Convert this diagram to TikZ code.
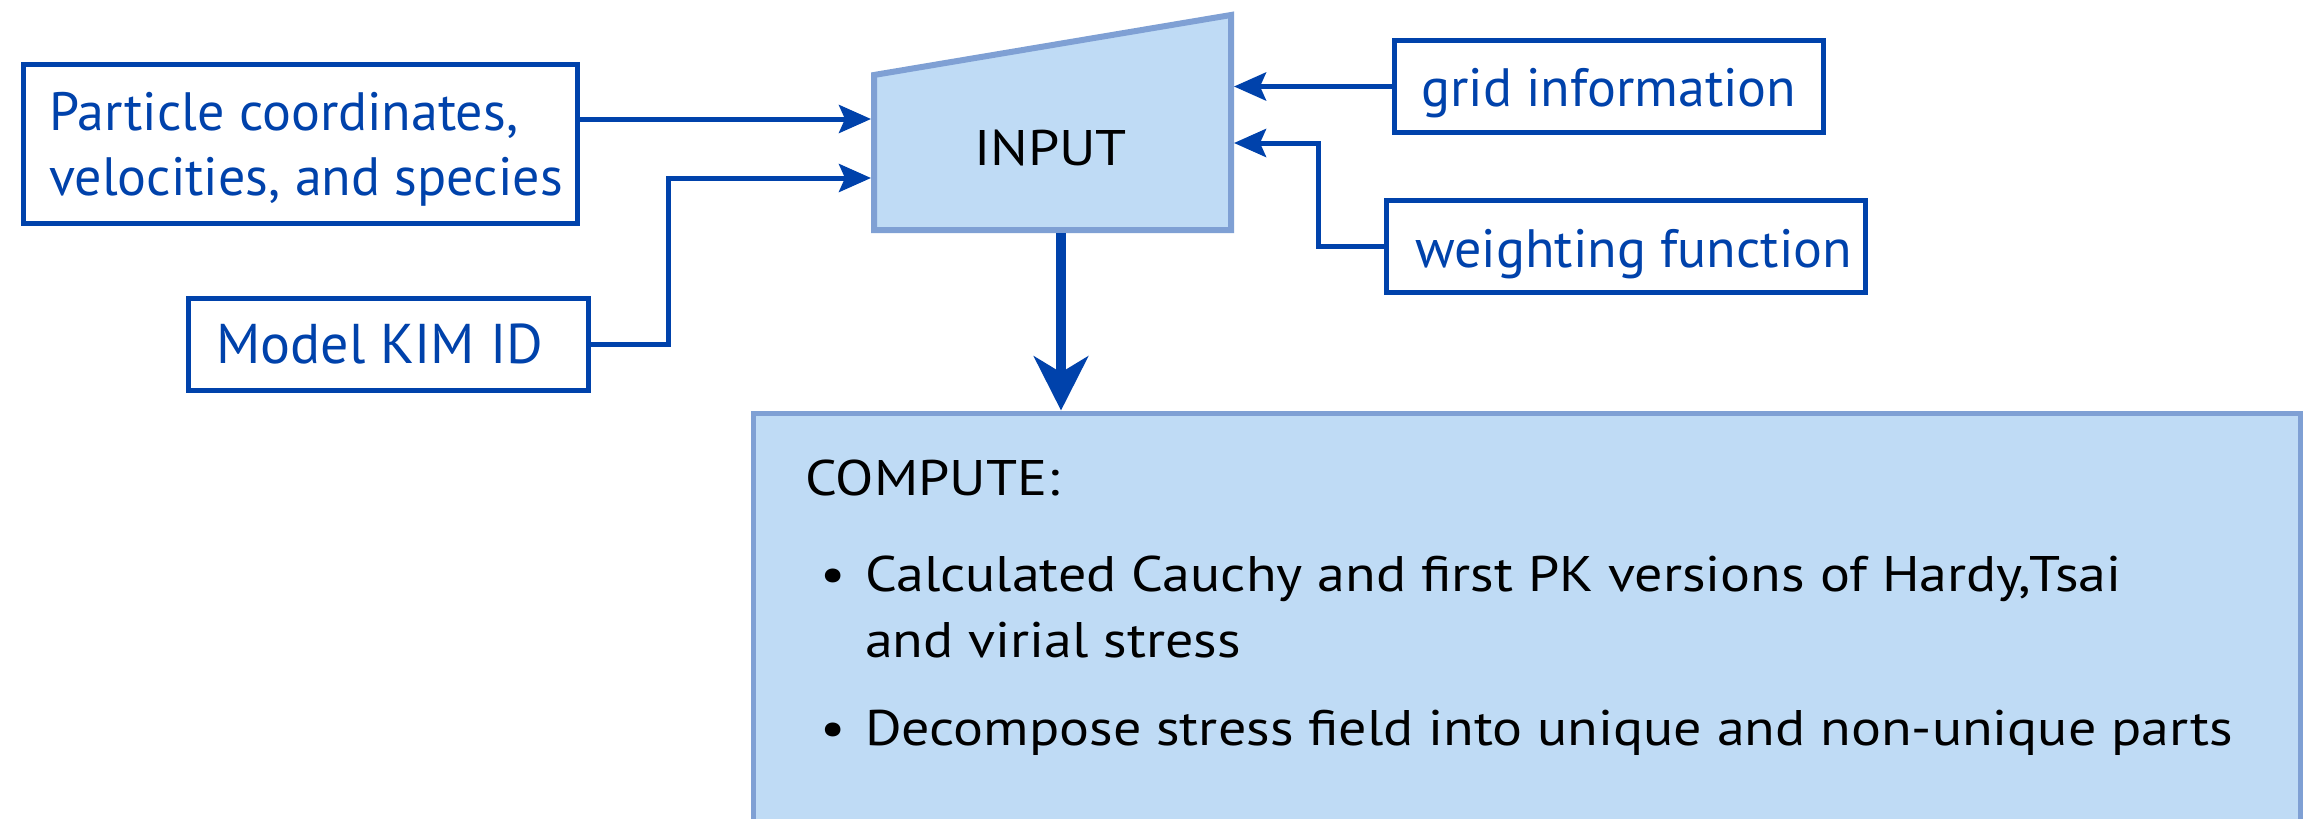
\documentclass[tikz,border=0pt]{standalone}
\usepackage{fontspec}
\setmainfont{PT Sans}
\newfontfamily\darkfont[FakeStretch=1.12]{PT Sans}
\usetikzlibrary{arrows.meta}
\definecolor{inkblue}{HTML}{0042AB}
\definecolor{paleblue}{HTML}{BFDBF5}
\definecolor{edgeblue}{HTML}{7FA0D4}
\begin{document}
\begin{tikzpicture}[x=1pt,y=-1pt,
  inbox/.style={draw=inkblue, line width=5.5pt, fill=white, inner sep=0pt},
  lbl/.style={text=inkblue, font=\fontsize{54}{64}\selectfont, anchor=base west, inner sep=0pt},
  dark/.style={text=black, font=\darkfont\fontsize{50}{60}\selectfont, anchor=base west, inner sep=0pt},
  link/.style={draw=inkblue, line width=5pt, -{Stealth[length=32pt,width=28pt,inset=6pt]}},
  bigarrow/.style={draw=inkblue, line width=10pt, -{Stealth[length=54pt,width=54pt,inset=16pt]}}]
\clip (0,0) rectangle (2318,819);
\fill[white] (0,0) rectangle (2318,819);

% input boxes
\node[inbox, minimum width=554pt, minimum height=159pt] (pc) at (300.5,144) {};
\node[lbl] (pcA) at (49,130) {Particle coordinates,};
\node[lbl] (pcB) at (49,195) {velocities, and species};

\node[inbox, minimum width=400pt, minimum height=92pt] (kim) at (388.5,344.5) {};
\node[lbl, font=\fontsize{56}{64}\selectfont] (kimt) at (216,363) {Model KIM ID};

\node[inbox, minimum width=429pt, minimum height=92pt] (grid) at (1609,86.5) {};
\node[lbl] (gridt) at (1421,106) {grid information};

\node[inbox, minimum width=479pt, minimum height=92pt] (wf) at (1626,246.5) {};
\node[lbl] (wft) at (1415,267) {weighting function};

% INPUT block
\draw[fill=paleblue, draw=edgeblue, line width=6pt]
  (874,75) -- (1231,15) -- (1231,230) -- (874,230) -- cycle;
\node[dark, anchor=base] (inp) at (1050.5,165) {INPUT};
\coordinate (inA) at (871,119);
\coordinate (inB) at (871,178);
\coordinate (inC) at (1234,87);
\coordinate (inD) at (1234,143);
\coordinate (kimup) at (668,178);
\coordinate (wfup) at (1318,143);
\coordinate (trapbot) at (1061,233);

% COMPUTE block
\node[draw=edgeblue, fill=paleblue, line width=5pt, anchor=north west,
      minimum width=1547pt, minimum height=460pt, inner sep=0pt] (comp) at (750.5,410.5) {};
\node[dark] (ct) at (805,495) {COMPUTE:};
\node[dark] (b1) at (820,591) {•};
\node[dark] (l1) at (865,591) {Calculated Cauchy and first PK versions of Hardy,Tsai};
\node[dark] (l2) at (865,657) {and virial stress};
\node[dark] (b2) at (820,745) {•};
\node[dark] (l3) at (865,745) {Decompose stress field into unique and non-unique parts};

% connectors
\draw[link] (pc.east |- inA) -- (inA);
\draw[link] (kim.east) -| (kimup) -- (inB);
\draw[link] (grid.west) -- (grid.west -| inC);
\draw[link] (wf.west) -| (wfup) -- (inD);
\draw[bigarrow] (trapbot) -- (trapbot |- comp.north);
\end{tikzpicture}
\end{document}
